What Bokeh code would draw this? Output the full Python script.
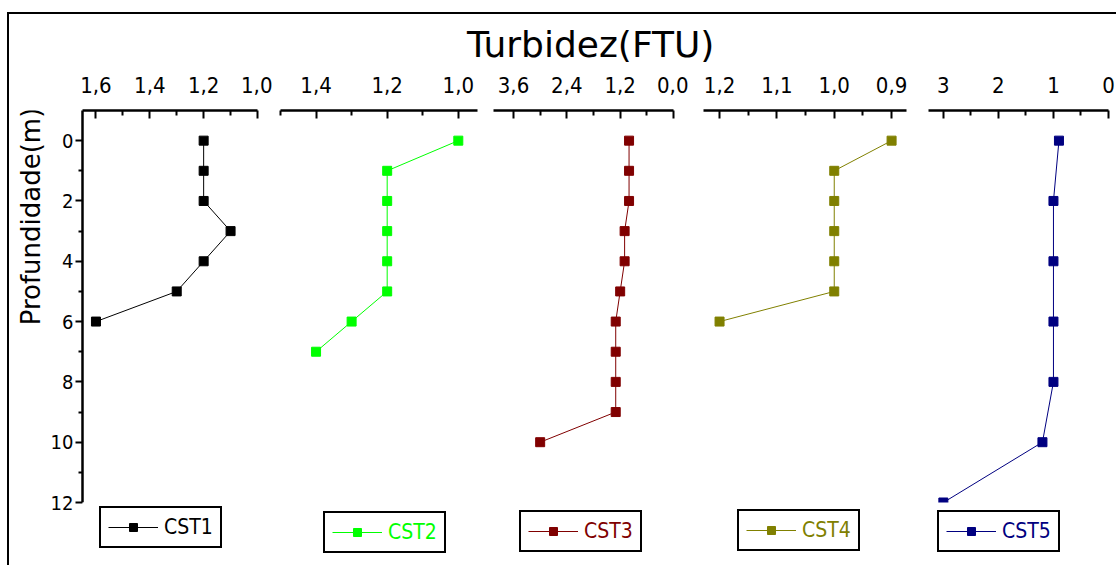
import math

from bokeh.embed import file_html
from bokeh.layouts import column, row
from bokeh.models import (BoxAnnotation, CustomJSTickFormatter, FixedTicker,
                          Label, Legend, LegendItem, Range1d)
from bokeh.plotting import figure
from bokeh.resources import INLINE

# ---- data: turbidity (FTU) against depth (m) at five stations ----
station_names = ["CST1", "CST2", "CST3", "CST4", "CST5"]

cst1_depth = [0, 1, 2, 3, 4, 5, 6]
cst1_turb = [1.2, 1.2, 1.2, 1.1, 1.2, 1.3, 1.6]

cst2_depth = [0, 1, 2, 3, 4, 5, 6, 7]
cst2_turb = [1.0, 1.2, 1.2, 1.2, 1.2, 1.2, 1.3, 1.4]

cst3_depth = [0, 1, 2, 3, 4, 5, 6, 7, 8, 9, 10]
cst3_turb = [1.0, 1.0, 1.0, 1.1, 1.1, 1.2, 1.3, 1.3, 1.3, 1.3, 3.0]

cst4_depth = [0, 1, 2, 3, 4, 5, 6]
cst4_turb = [0.9, 1.0, 1.0, 1.0, 1.0, 1.0, 1.2]

cst5_depth = [0, 2, 4, 6, 8, 10, 12]
cst5_turb = [0.9, 1.0, 1.0, 1.0, 1.0, 1.2, 3.0]

# ---- tick values ----
depth_ticks = [0, 2, 4, 6, 8, 10, 12]
depth_minor_ticks = [1, 3, 5, 7, 9, 11]

cst1_ticks = [1.6, 1.4, 1.2, 1.0]
cst1_minor = [1.5, 1.3, 1.1]
cst2_ticks = [1.4, 1.2, 1.0]
cst2_minor = [1.5, 1.3, 1.1]
cst3_ticks = [3.6, 2.4, 1.2, 0.0]
cst3_minor = [3.0, 1.8, 0.6]
cst4_ticks = [1.2, 1.1, 1.0, 0.9]
cst4_minor = [1.15, 1.05, 0.95]
cst5_ticks = [3, 2, 1, 0]
cst5_minor = [2.5, 1.5, 0.5]

colors = ["#000000", "#00FF00", "#800000", "#808000", "#000080"]

TITLE = "Turbidez(FTU)"
Y_LABEL = "Profundidade(m)"

NARROW = "DejaVu Sans Condensed, Roboto"
WIDE = "DejaVu Sans"

# ---- layout geometry (pixels) ----
TITLE_H = 50
PANEL_H = 501
BORDER_TOP = 46
BORDER_BOTTOM = 2
STRIP_W = 38
FRAME_H = PANEL_H - BORDER_TOP - BORDER_BOTTOM
DEPTH_TOP, DEPTH_AXIS_END = -1, 12
AXIS_PX = 392  # height taken by the depth axis (-1 .. 12 m)
# the plot area runs on below the 12 m mark to hold each station's key
depth_bottom = DEPTH_TOP + FRAME_H * (DEPTH_AXIS_END - DEPTH_TOP) / AXIS_PX

panels = [
    # depth, values, ticks, minor, decimals, x range, width, border l/r, key offset
    dict(depth=cst1_depth, vals=cst1_turb, ticks=cst1_ticks, minor=cst1_minor, dec=1,
         xr=(1.65, 1.0), w=225, bl=32, br=15, leg=(17, 15)),
    dict(depth=cst2_depth, vals=cst2_turb, ticks=cst2_ticks, minor=cst2_minor, dec=1,
         xr=(1.5, 0.946), w=213, bl=8, br=8, leg=(43, 10)),
    dict(depth=cst3_depth, vals=cst3_turb, ticks=cst3_ticks, minor=cst3_minor, dec=1,
         xr=(4.05, 0.0), w=203, bl=8, br=15, leg=(26, 11)),
    dict(depth=cst4_depth, vals=cst4_turb, ticks=cst4_ticks, minor=cst4_minor, dec=1,
         xr=(1.228, 0.874), w=229, bl=15, br=11, leg=(34, 12)),
    dict(depth=cst5_depth, vals=cst5_turb, ticks=cst5_ticks, minor=cst5_minor, dec=0,
         xr=(3.27, 0.0), w=199, bl=11, br=8, leg=(9, 11)),
]


def style_common_axis(ax, size):
    ax.axis_line_width = 2.5
    ax.axis_line_color = "black"
    ax.major_tick_line_width = 2
    ax.minor_tick_line_width = 2
    ax.major_tick_line_color = "black"
    ax.minor_tick_line_color = "black"
    ax.major_label_text_font = NARROW
    ax.major_label_text_font_size = size
    ax.major_label_text_color = "black"


figs = []
for i, cfg in enumerate(panels):
    first = i == 0
    p = figure(
        width=cfg["w"], height=PANEL_H,
        x_range=Range1d(*cfg["xr"]), y_range=Range1d(depth_bottom, DEPTH_TOP),
        x_axis_location="above",
        y_axis_location="left" if first else None,
        title=None, toolbar_location=None, output_backend="svg",
        min_border_left=cfg["bl"], min_border_right=cfg["br"],
        min_border_top=BORDER_TOP, min_border_bottom=BORDER_BOTTOM,
    )
    p.outline_line_color = None
    p.background_fill_color = "white"
    p.border_fill_color = "white"
    for g in p.grid:
        g.visible = False

    # top turbidity axis, ticks pointing into the plot
    xa = p.xaxis[0]
    xa.ticker = FixedTicker(ticks=cfg["ticks"], minor_ticks=cfg["minor"])
    xa.formatter = CustomJSTickFormatter(
        args=dict(d=cfg["dec"]), code="return tick.toFixed(d).replace('.', ',')")
    style_common_axis(xa, "22px")
    xa.major_tick_in = 8
    xa.major_tick_out = 0
    xa.minor_tick_in = 5
    xa.minor_tick_out = 0
    xa.major_label_standoff = 18

    if first:
        ya = p.yaxis[0]
        ya.ticker = FixedTicker(ticks=depth_ticks, minor_ticks=depth_minor_ticks)
        ya.bounds = (DEPTH_TOP, DEPTH_AXIS_END)
        style_common_axis(ya, "20px")
        ya.major_tick_in = 0
        ya.major_tick_out = 7
        ya.minor_tick_in = 0
        ya.minor_tick_out = 4
        ya.major_label_standoff = 2

    color = colors[i]
    lr = p.line(cfg["vals"], cfg["depth"], line_color=color, line_width=1)
    sr = p.scatter(cfg["vals"], cfg["depth"], marker="square", size=9,
                   fill_color=color, line_color=color)

    # data area ends at the 12 m mark: blank out anything drawn below it
    p.add_layout(BoxAnnotation(
        top=DEPTH_AXIS_END, bottom=depth_bottom, fill_color="white", fill_alpha=1,
        line_alpha=0))

    legend = Legend(
        items=[LegendItem(label=station_names[i], renderers=[lr, sr])],
        location=cfg["leg"], orientation="horizontal",
        glyph_width=50, glyph_height=20, label_standoff=6, padding=7,
        margin=0, spacing=0,
        label_text_font=NARROW, label_text_font_size="21px", label_text_color=color,
        border_line_color="black", border_line_width=2, border_line_alpha=1,
        background_fill_color="white", background_fill_alpha=1,
    )
    p.add_layout(legend)
    figs.append(p)

# strip at the left carrying the depth axis title
strip = figure(
    width=STRIP_W, height=PANEL_H,
    x_range=Range1d(0, 1), y_range=Range1d(0, 1),
    x_axis_type=None, y_axis_type=None, title=None,
    toolbar_location=None, output_backend="svg", min_border=0,
)
strip.outline_line_color = None
strip.add_layout(Label(
    x=0.566, y=0.766, text=Y_LABEL,
    angle=math.pi / 2, text_align="center", text_baseline="alphabetic",
    text_font=WIDE, text_font_size="26px", text_color="black"))

# heading strip
title_fig = figure(
    width=STRIP_W + sum(c["w"] for c in panels), height=TITLE_H,
    x_range=Range1d(0, 1), y_range=Range1d(0, 1),
    x_axis_type=None, y_axis_type=None, title=None,
    toolbar_location=None, output_backend="svg", min_border=0,
)
title_fig.outline_line_color = None
title_fig.add_layout(Label(
    x=0.525, y=0.40, text=TITLE,
    text_align="center", text_baseline="alphabetic",
    text_font=WIDE, text_font_size="36px", text_color="black"))

layout = column(
    title_fig, row(strip, *figs),
    margin=(12, 0, 0, 7),
    styles={"border-top": "2px solid black", "border-left": "2px solid black"},
)

open("out.html", "w").write(file_html(layout, INLINE))
